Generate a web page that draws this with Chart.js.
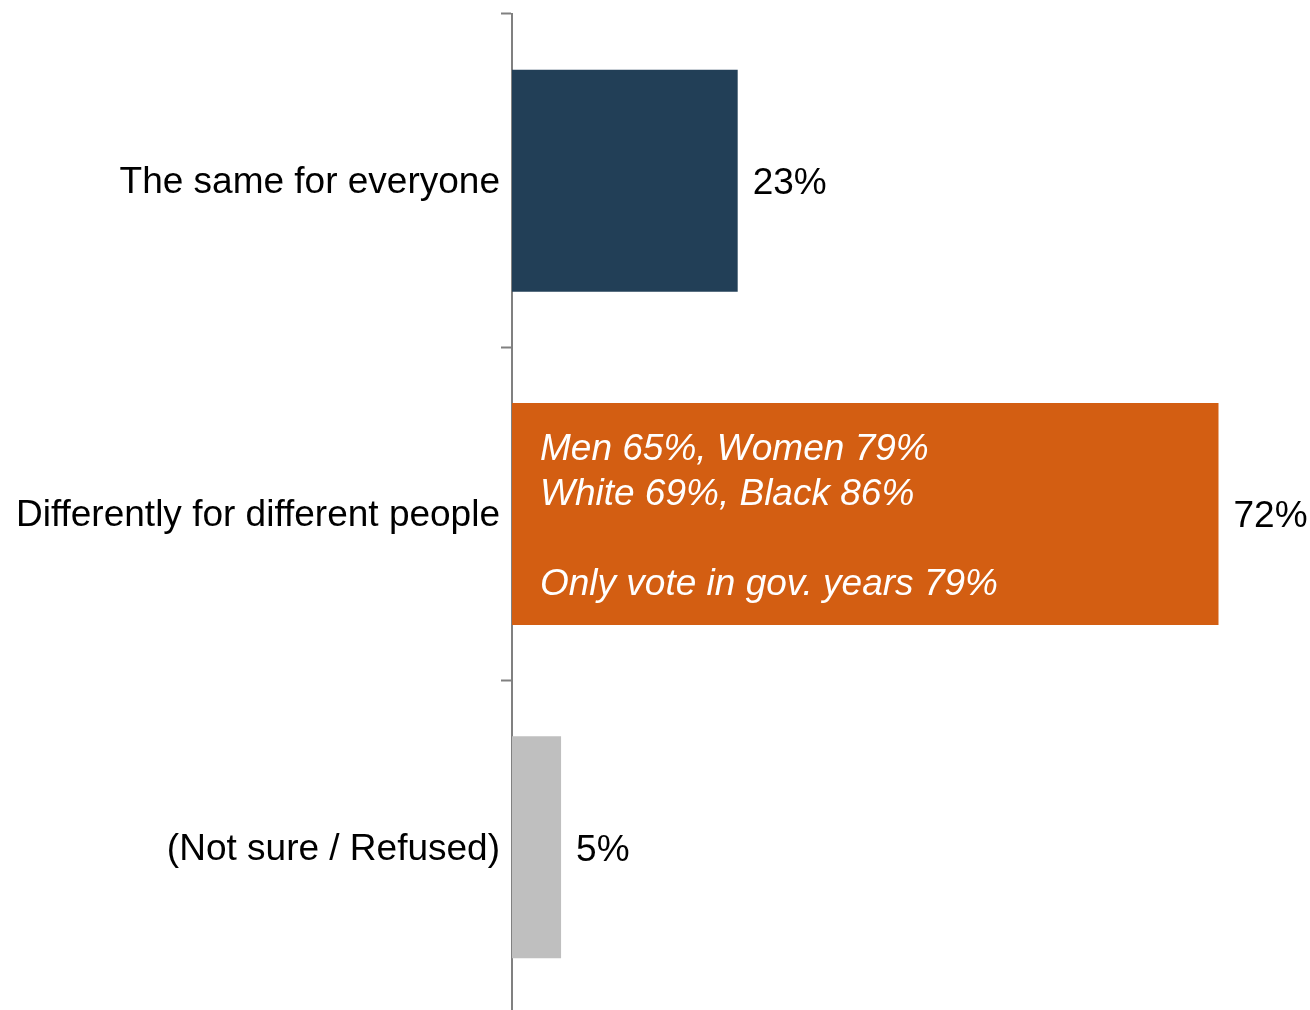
<!DOCTYPE html>
<html>
<head>
<meta charset="utf-8">
<script src="https://cdn.jsdelivr.net/npm/chart.js@4.4.1/dist/chart.umd.min.js"></script>
<style>
  html, body { margin: 0; padding: 0; background: #fff; overflow: hidden; }
  #wrap { position: relative; width: 1310px; height: 1014px; }
</style>
</head>
<body>
<div id="wrap"><canvas id="grafico"></canvas></div>
<script>
// Datos del gráfico
const categorias = ['The same for everyone', 'Differently for different people', '(Not sure / Refused)'];
const valores = [23, 72, 5];
const notaBarra = 1; // índice de la barra con la nota
const notaLineas = ['Men 65%, Women 79%', 'White 69%, Black 86%', '', 'Only vote in gov. years 79%'];

const colores = ['#223f57', '#d35e12', '#bfbfbf'];
const FUENTE = '"Liberation Sans", Arial, sans-serif';

// Etiquetas de valor y nota dentro de la barra naranja
const etiquetasPlugin = {
    id: 'etiquetas',
    afterDatasetsDraw(chart) {
        const ctx = chart.ctx;
        const meta = chart.getDatasetMeta(0);
        ctx.save();
        ctx.font = '37px ' + FUENTE;
        ctx.fillStyle = '#000';
        ctx.textAlign = 'left';
        ctx.textBaseline = 'middle';
        meta.data.forEach((bar, i) => {
            ctx.fillText(valores[i] + '%', bar.x + 15, bar.y + 3);
        });

        const b = meta.data[notaBarra];
        ctx.font = 'italic 37px ' + FUENTE;
        ctx.fillStyle = '#fff';
        const salto = 45;
        notaLineas.forEach((linea, i) => {
            const y = b.y + 3 + (i - (notaLineas.length - 1) / 2) * salto;
            ctx.fillText(linea, b.base + 28, y);
        });
        ctx.restore();
    }
};

new Chart(document.getElementById('grafico'), {
    type: 'bar',
    data: {
        labels: categorias,
        datasets: [{
            data: valores,
            backgroundColor: colores,
            borderWidth: 0,
            categoryPercentage: 1,
            barPercentage: 0.666
        }]
    },
    options: {
        indexAxis: 'y',
        responsive: true,
        maintainAspectRatio: false,
        animation: false,
        layout: { padding: { top: 14, right: 13, bottom: 0, left: 0 } },
        plugins: {
            legend: { display: false },
            tooltip: { enabled: false }
        },
        scales: {
            x: {
                display: false,
                min: 0,
                max: 80
            },
            y: {
                offset: true,
                afterFit(scale) {
                    scale.width = 512;
                    scale.paddingTop = 0;
                    scale.paddingBottom = 0;
                },
                border: { display: true, color: '#808080', width: 2 },
                grid: {
                    offset: true,
                    drawOnChartArea: false,
                    drawTicks: true,
                    tickLength: 11,
                    tickWidth: 2,
                    tickColor: '#808080'
                },
                ticks: {
                    color: '#000',
                    padding: 1,
                    labelOffset: 2,
                    font: { family: FUENTE, size: 37 }
                }
            }
        }
    },
    plugins: [etiquetasPlugin]
});
</script>
</body>
</html>
